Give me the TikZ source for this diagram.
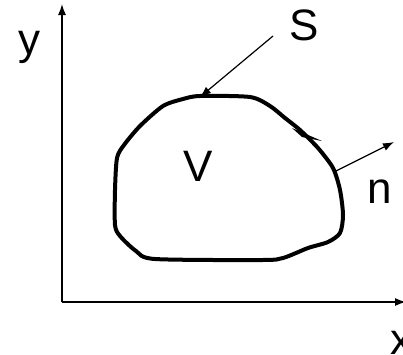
\documentclass[tikz,border=0pt]{standalone}
\usepackage{fontspec}
\setmainfont{Liberation Sans}
\usepackage{tikz}
\usetikzlibrary{arrows.meta}

\begin{document}
\begin{tikzpicture}[x=1pt,y=-1pt]
    \useasboundingbox (0,0) rectangle (403,354);
    \tikzset{lbl/.style={font=\fontsize{44}{44}\selectfont,inner sep=0pt},
      vec/.style={line width=1.2pt,-{Latex[length=11pt,width=8pt]}}}
    \coordinate (o) at (62,302);
    \coordinate (ytip) at (62,4);
    \coordinate (xtip) at (406,302);
    \coordinate (stail) at (273,36);
    \coordinate (shead) at (200,97);
    \coordinate (ntail) at (336,171);
    \coordinate (nhead) at (394,142);
    \draw[vec,line width=1.4pt] (o)--(ytip);
    \draw[vec,line width=1.4pt] (o)--(xtip);
    \draw[line width=4pt,line join=round] plot[smooth cycle,tension=0.45] coordinates
      {(200,96) (250,97) (270,106) (285,118) (300,130) (318,148) (333,168) (340,190)
       (343,215) (340,233) (328,242) (308,248) (283,258) (262,260) (155,259)
       (136,251) (120,236) (115,225) (115,190) (117,158) (124,145) (140,126)
       (163,106) (183,99)};
    \fill (292,128) -- (322,141) -- (302,137) -- cycle;
    \draw[vec] (stail)--(shead);
    \draw[vec] (ntail)--(nhead);
    \node[lbl] (ylbl) at (29,47) {y};
    \node[lbl] (slbl) at (304,25) {S};
    \node[lbl] (vlbl) at (198,166) {V};
    \node[lbl] (nlbl) at (380,192) {n};
    \node[lbl] (xlbl) at (401,343) {x};
\end{tikzpicture}
\end{document}
